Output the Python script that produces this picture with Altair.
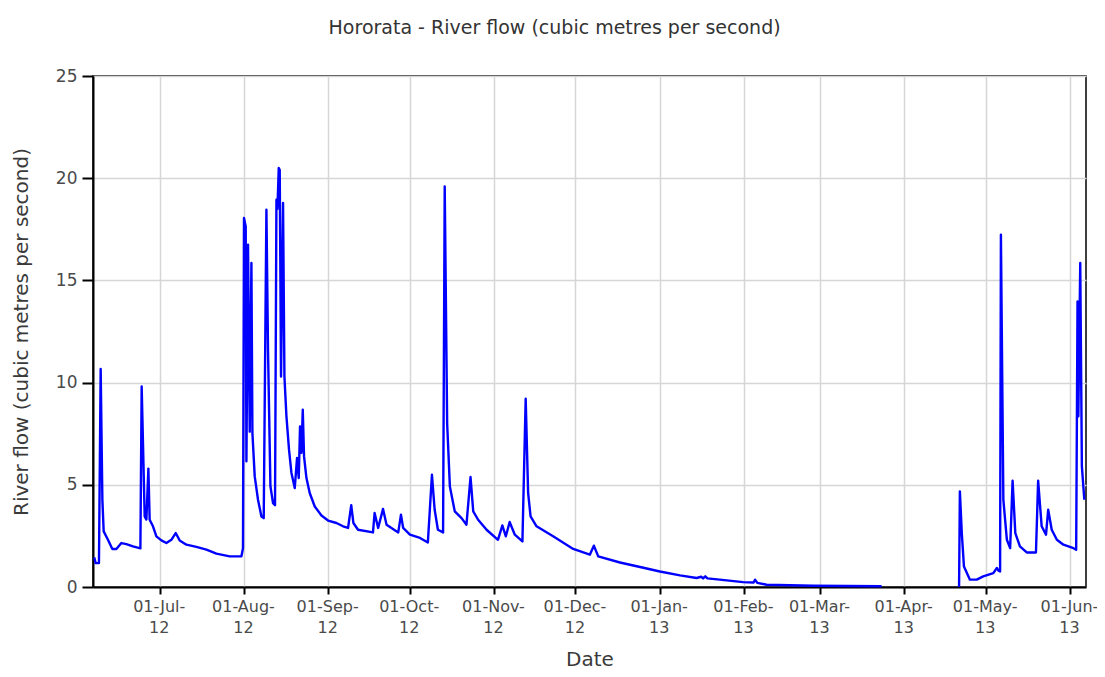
import altair as alt
import pandas as pd

# ---- data (days after 2012-06-06 00:00 UTC, flow m3/s) ----
days_a = [0.9, 1.44, 2.65, 3.28, 3.91, 4.39, 5.96, 7.58, 9.06, 10.9, 12.74, 15.17, 17.9,
          18.37, 19.48, 20.11, 20.84, 21.31, 22.53, 23.79, 25.63, 27.47, 29.3, 30.89, 32.36,
          34.83, 38.51, 42.2, 45.87, 50.77, 55.08, 55.66, 56.03, 56.66, 56.92, 57.51, 58.14,
          58.76, 59.13, 59.98, 61.19, 62.44, 63.29, 64.28, 64.87, 65.76, 66.72, 67.45, 67.97,
          68.34, 68.82, 69.18, 69.66, 70.4, 70.91, 71.65, 72.6, 73.49, 74.71, 75.55, 76.18,
          76.66, 77.17, 77.66, 78.13, 79.01, 80.22, 82.07, 84.54, 86.97, 90.06, 92.49, 94.33,
          95.5, 96.3, 98.0, 103.5, 104.1, 105.4, 107.2, 108.5, 112.8, 113.8, 114.6, 117.1,
          120.8, 123.7, 125.2, 126.2, 127.4, 129.3, 129.9, 130.8, 131.8, 133.6, 136.1, 137.9,
          139.4, 140.4, 142.2, 145.3, 149.5, 151.1, 152.4, 153.8, 155.7, 158.5, 159.7, 160.6,
          161.5, 163.7, 169.8, 177.2, 183.3, 184.8, 186.4, 194.4, 201.8, 209.1, 216.5, 222.6,
          224.3, 225.0, 225.8, 226.6, 231.1, 239.7, 243.6, 244.1, 245.0, 248.4, 265.5, 290.7]
flow_a = [1.45, 1.17, 1.17, 10.67, 4.27, 2.72, 2.31, 1.86, 1.86, 2.15, 2.1, 1.99, 1.89,
          9.81, 3.45, 3.3, 5.79, 3.29, 2.97, 2.48, 2.28, 2.15, 2.31, 2.64, 2.28,
          2.07, 1.96, 1.83, 1.63, 1.5, 1.5, 1.9, 18.05, 17.64, 6.15, 16.75, 7.6,
          15.85, 7.53, 5.41, 4.27, 3.45, 3.37, 18.46, 11.6, 4.92, 4.1, 4.0, 18.95,
          18.5, 20.5, 20.4, 10.3, 18.79, 10.3, 8.35, 6.72, 5.58, 4.84, 6.31, 5.33,
          7.86, 6.56, 8.67, 6.39, 5.33, 4.6, 3.94, 3.5, 3.25, 3.13, 2.97, 2.89,
          4.0, 3.13, 2.8, 2.67, 3.62, 2.89, 3.82, 3.05, 2.67, 3.54, 2.89, 2.56,
          2.4, 2.18, 5.49, 3.78, 2.8, 2.67, 19.6, 8.0, 4.92, 3.7, 3.37, 3.05,
          5.38, 3.7, 3.29, 2.8, 2.31, 3.01, 2.48, 3.18, 2.56, 2.23, 9.21, 4.6,
          3.45, 2.97, 2.48, 1.86, 1.58, 2.02, 1.5, 1.2, 0.98, 0.76, 0.57, 0.44,
          0.5, 0.42, 0.52, 0.42, 0.36, 0.24, 0.22, 0.36, 0.2, 0.11, 0.06, 0.04]

days_b = [319.2, 319.5, 320.2, 321.0, 323.2, 325.7, 328.1, 331.8, 333.1, 333.7, 334.3, 334.6,
          335.5, 336.8, 338.0, 338.9, 339.9, 341.6, 344.1, 347.5, 348.3, 349.6, 351.2, 352.0,
          353.3, 355.2, 357.6, 361.3, 362.3, 362.8, 363.1, 363.8, 364.4, 365.3]
flow_b = [0.0, 4.68, 2.64, 1.0, 0.36, 0.36, 0.52, 0.68, 0.93, 0.8, 0.76, 17.24,
          4.27, 2.31, 1.9, 5.2, 2.64, 1.99, 1.69, 1.69, 5.2, 2.97, 2.56, 3.78,
          2.8, 2.31, 2.07, 1.9, 1.82, 13.97, 8.35, 15.85, 5.9, 4.27]

month_ticks = [(2012, 7), (2012, 8), (2012, 9), (2012, 10), (2012, 11), (2012, 12),
               (2013, 1), (2013, 2), (2013, 3), (2013, 4), (2013, 5), (2013, 6)]
y_ticks = [0, 5, 10, 15, 20, 25]

title_text = "Hororata - River flow (cubic metres per second)"
x_title = "Date"
y_title = "River flow (cubic metres per second)"

start = pd.Timestamp("2012-06-06")


def build(days, flows, seg):
    ts = start + pd.to_timedelta(days, unit="D")
    return pd.DataFrame({"date": ts.strftime("%Y-%m-%dT%H:%M:%SZ"),
                         "flow": flows, "segment": seg})


df = pd.concat([build(days_a, flow_a, "a"), build(days_b, flow_b, "b")], ignore_index=True)

FONT = "DejaVu Sans"

x_values = [alt.DateTime(year=y, month=m, date=1, utc=True) for y, m in month_ticks]

chart = alt.Chart(df).mark_line(color="#0000ff", strokeWidth=2.4, strokeJoin="round").encode(
    x=alt.X("date:T", title=x_title,
            scale=alt.Scale(type="utc", domain=[
                alt.DateTime(year=2012, month=6, date=6, hours=11, utc=True),
                alt.DateTime(year=2013, month=6, date=6, hours=22, utc=True)]),
            axis=alt.Axis(values=x_values,
                          labelExpr="[utcFormat(datum.value, '%d-%b-'), utcFormat(datum.value, '%y')]",
                          labelOverlap=False, labelFlush=False,
                          labelFont=FONT, labelFontSize=16, labelColor="#4a4a4a",
                          labelLineHeight=21, labelPadding=4, labelOffset=-1,
                          tickSize=7, tickColor="#000", tickWidth=2,
                          domainColor="#000", domainWidth=2,
                          grid=True, gridColor="#d6d6d6", gridWidth=1.5,
                          titleFont=FONT, titleFontSize=20, titleFontWeight="normal",
                          titleColor="#3a3a3a", titlePadding=14)),
    y=alt.Y("flow:Q", title=y_title,
            scale=alt.Scale(domain=[0, 25], nice=False),
            axis=alt.Axis(values=y_ticks,
                          labelFont=FONT, labelFontSize=17, labelColor="#4a4a4a",
                          labelPadding=5,
                          tickSize=11, tickColor="#000", tickWidth=2,
                          domainColor="#000", domainWidth=2,
                          grid=True, gridColor="#d6d6d6", gridWidth=1.5,
                          titleFont=FONT, titleFontSize=20, titleFontWeight="normal",
                          titleColor="#3a3a3a", titlePadding=24)),
    detail="segment:N",
).properties(
    width=993, height=511,
    title=alt.TitleParams(text=title_text, font=FONT, fontSize=19, fontWeight="normal",
                          color="#333333", anchor="middle", frame="bounds", offset=29),
    autosize=alt.AutoSizeParams(type="none"),
    padding={"left": 85, "top": 68, "right": 11, "bottom": 82},
).configure_view(stroke="#000", strokeWidth=1.5)

chart.save("out.html", embed_options={"renderer": "svg", "actions": False})
